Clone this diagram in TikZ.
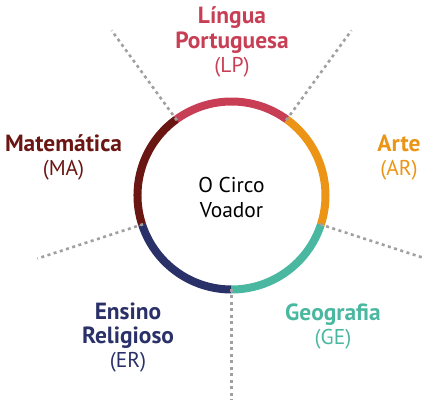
\documentclass[tikz,border=0pt]{standalone}
\usepackage{fontspec}
\setmainfont{PT Sans}
\definecolor{lpred}{RGB}{200,62,85}
\definecolor{arorange}{RGB}{235,148,22}
\definecolor{geteal}{RGB}{74,184,160}
\definecolor{ernavy}{RGB}{42,48,104}
\definecolor{mabrown}{RGB}{106,22,18}
\definecolor{dotgray}{RGB}{160,160,160}
\newcommand{\subjname}[1]{{\fontsize{23.5}{24.5}\selectfont\bfseries #1}}
\tikzset{
  subj/.style={text=#1, align=center, inner sep=0pt, font=\fontsize{21.5}{24.5}\selectfont},
  ring/.style={line width=8bp, #1},
  dots/.style={dotgray, line width=2.6bp, dash pattern=on 3bp off 3.5bp}
}
\begin{document}
\begin{tikzpicture}[x=1bp, y=1bp]
    \useasboundingbox (-231.5,-207.5) rectangle (190.5,195.5);
    % ring segments
    \draw[ring=lpred] (54:94) arc[start angle=54, end angle=126, radius=94];
    \draw[ring=mabrown] (126:94) arc[start angle=126, end angle=198, radius=94];
    \draw[ring=ernavy] (198:94) arc[start angle=198, end angle=270, radius=94];
    \draw[ring=geteal] (270:94) arc[start angle=270, end angle=342, radius=94];
    \draw[ring=arorange] (342:94) arc[start angle=342, end angle=414, radius=94];
    % dividers
    \foreach \a in {54,126,198,270,342}
        \draw[dots] (\a:93) -- (\a:204);
    \node[subj=black] (centre) at (0,-2) {O Circo\\Voador};
    \node[subj=lpred] (lp) at (0.5,153.5) {\subjname{Língua}\\\subjname{Portuguesa}\\(LP)};
    \node[subj=arorange] (ar) at (167.5,38) {\subjname{Arte}\\(AR)};
    \node[subj=geteal] (ge) at (101.5,-131) {\subjname{Geografia}\\(GE)};
    \node[subj=ernavy] (er) at (-103.5,-142) {\subjname{Ensino}\\\subjname{Religioso}\\(ER)};
    \node[subj=mabrown] (ma) at (-168,38) {\subjname{Matemática}\\(MA)};
\end{tikzpicture}
\end{document}
